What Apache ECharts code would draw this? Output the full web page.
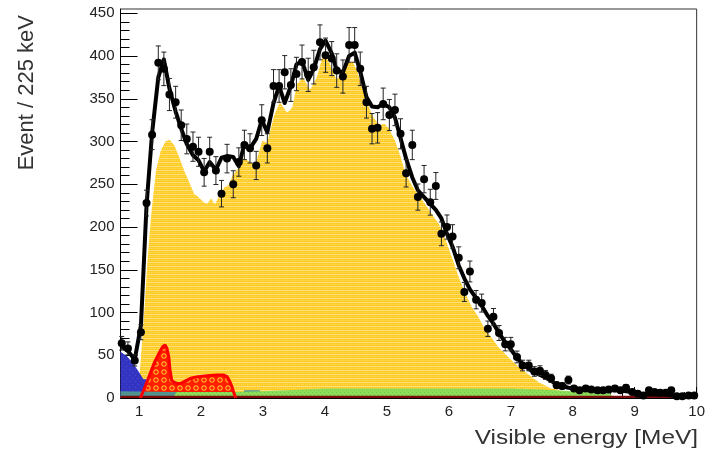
<!DOCTYPE html>
<html lang="en">
<head>
    <meta charset="UTF-8">
    <title>Visible energy spectrum</title>
    <script src="https://cdn.jsdelivr.net/npm/echarts@6/dist/echarts.min.js"></script>
    <style>
        html, body { margin: 0; padding: 0; background: #fff; }
        #chart { width: 708px; height: 449px; }
    </style>
</head>
<body>
<div id="chart"></div>
<script>
    // data points (Event / 225 keV)
    var pointE = [0.72,0.82,0.93,1.03,1.12,1.21,1.31,1.40,1.49,1.59,1.68,1.77,1.87,1.96,
        2.05,2.14,2.24,2.33,2.42,2.52,2.61,2.70,2.79,2.89,2.98,
        3.07,3.17,3.26,3.35,3.45,3.54,3.63,3.73,3.82,3.92,
        4.01,4.11,4.19,4.29,4.39,4.48,4.57,4.67,4.76,4.85,4.94,
        5.04,5.13,5.22,5.31,5.41,5.50,5.60,5.70,5.79,5.88,5.97,
        6.06,6.16,6.25,6.34,6.44,6.53,6.63,6.72,6.81,6.91,
        7.00,7.10,7.19,7.29,7.38,7.47,7.56,7.65,7.74,7.83,7.93,
        8.02,8.11,8.21,8.30,8.40,8.49,8.58,8.68,8.77,8.86,8.96,
        9.05,9.14,9.23,9.32,9.41,9.50,9.59,9.68,9.77,9.87,9.96];
    var pointV = [64,58,44,77,228,308,392,385,355,346,319,303,294,288,
        264,288,266,239,280,250,276,296,292,272,325,
        292,365,365,381,366,379,393,378,387,416,
        401,397,383,376,413,413,385,346,315,316,344,
        331,337,309,263,296,235,256,229,248,192,200,
        189,164,124,148,115,111,81,95,76,63,
        63,48,38,38,31,32,27,23,15,14,21,
        11,9,11,10,9,9,10,11,9,12,7,
        5,3,9,7,6,6,9,2,2,3,3];
    var pointErr = [8,7.6,6.6,8.8,15.1,17.5,19.8,19.6,18.8,18.6,17.9,17.4,17.1,17,
        16.2,17,16.3,15.5,16.7,15.8,16.6,17.2,17.1,16.5,18,
        17.1,19.1,19.1,19.5,19.1,19.5,19.8,19.4,19.7,20.4,
        20,19.9,19.6,19.4,20.3,20.3,19.6,18.6,17.7,17.8,18.5,
        18.2,18.4,17.6,16.2,17.2,15.3,16,15.1,15.7,13.9,14.1,
        13.7,12.8,11.1,12.2,10.7,10.5,9,9.7,8.7,7.9,
        7.9,6.9,6.2,6.2,5.6,5.7,5.2,4.8,3.9,3.7,4.6,
        3.3,3,3.3,3.2,3,3,3.2,3.3,3,3.5,2.6,
        2.2,1.7,3,2.6,2.4,2.4,3,1.4,1.4,1.7,1.7];

    // total fit (black curve)
    var fitV = [60,55,45,85,225,310,375,396,362,335,315,297,284,278,
        265,276,267,281,283,282,271,297,292,303,325,
        311,345,365,345,365,390,394,372,385,408,
        418,403,383,381,400,404,382,352,341,340,344,
        340,328,304,280,258,243,235,227,220,210,192,
        177,155,140,127,117,108,96,87,76,65,
        57,47,40,34,30,27,24,20,16,14,12,
        11,10,10,10,9,9,9,9,9,8,7,
        5,4,4,4,4,4,3,3,3,3,3];

    // main (yellow) component, upper edge
    var yellowE = [0.97,1.02,1.07,1.12,1.18,1.26,1.34,1.42,1.50,1.58,1.66,1.74,1.82,1.90,1.96,
        2.03,2.09,2.17,2.22,2.30,2.37,2.44,2.50,2.58,2.68,2.77,2.87,2.98,
        3.06,3.17,3.27,3.39,3.46,3.54,3.65,3.76,3.86,3.97,
        4.08,4.19,4.28,4.37,4.45,4.53,4.61,4.70,4.78,4.88,4.96,
        5.04,5.15,5.23,5.31,5.42,5.53,5.66,5.77,5.85,5.96,
        6.06,6.17,6.28,6.38,6.49,6.60,6.71,6.81,6.92,
        7.03,7.14,7.24,7.35,7.46,7.57,7.65,7.72,7.80,7.85];
    var yellowV = [0,50,99,157,212,266,290,301,303,296,282,266,253,239,236,
        231,228,235,228,239,247,250,261,268,282,278,274,302,
        300,331,348,335,340,368,376,362,376,405,
        393,374,382,393,395,383,364,345,330,320,322,
        316,300,283,263,248,237,224,212,204,185,
        165,142,122,107,95,80,70,60,52,
        44,37,31,25,19,15,12,11,10,0];

    // blue component (low energy)
    var blueE = [0.70,0.80,0.90,1.00,1.07,1.15,1.25,1.40,1.50,1.60,1.70,1.80,1.90,2.00,2.10,2.20,2.35,2.50];
    var blueV = [54,49,41,30,22,22,24,24,22,19,17,15,13,10,8,6,3,0];

    // red component (two lobes)
    var redE = [1.02,1.08,1.18,1.25,1.32,1.38,1.42,1.45,1.48,1.50,1.53,1.60,1.67,1.75,1.83,1.95,2.10,2.25,2.36,2.42,2.46,2.50,2.53,2.56];
    var redV = [0,10,29,42,52,60,62,58,48,32,20,17,17,20,23,25,26,27,27,25,20,13,6,0];

    // green / teal flat backgrounds
    var tealE = [0.70,1.00,1.50,1.80,1.85,2.65,2.70,2.95,3.00];
    var tealV = [8,7.5,7,7,0,0,9,9,0];
    var greenE = [1.55,1.60,2.00,2.50,3.00,3.50,4.00,5.00,6.00,7.00,7.50,8.00,8.30,8.60,8.65];
    var greenV = [0,7,7,7,8,9.5,11,11,11,11,10,8,7,6,0];

    // dark red floor
    var floorE = [0.70,9.60,9.65];
    var floorV = [2.5,2.5,0];

    var xMajor = [1,2,3,4,5,6,7,8,9,10];
    var yMajor = [0,50,100,150,200,250,300,350,400,450];

    function pairs(xs, ys) {
        var out = [];
        for (var i = 0; i < xs.length; i++) out.push([xs[i], ys[i]]);
        return out;
    }

    // fill patterns, like ROOT hatches
    function pattern(w, h, draw) {
        var c = document.createElement('canvas');
        c.width = w; c.height = h;
        draw(c.getContext('2d'));
        return { image: c, repeat: 'repeat' };
    }
    var yellowFill = pattern(4, 4, function (g) {
        g.fillStyle = '#ffcc26'; g.fillRect(0, 0, 4, 4);
        g.fillStyle = '#ffe07a'; g.fillRect(0, 2, 4, 1);
        g.fillStyle = '#ffd95a'; g.fillRect(1, 0, 1, 1); g.fillRect(3, 0, 1, 1);
    });
    var redFill = pattern(8, 8, function (g) {
        g.fillStyle = '#ff1e00'; g.fillRect(0, 0, 8, 8);
        g.strokeStyle = '#ffb030'; g.lineWidth = 1.2;
        g.beginPath(); g.arc(4, 4, 2.2, 0, Math.PI * 2); g.stroke();
    });
    var blueFill = pattern(6, 6, function (g) {
        g.fillStyle = '#3434c2'; g.fillRect(0, 0, 6, 6);
        g.fillStyle = '#4a4ad0'; g.fillRect(0, 0, 1, 1); g.fillRect(3, 3, 1, 1);
    });
    var greenFill = pattern(4, 4, function (g) {
        g.fillStyle = '#8fdc5a'; g.fillRect(0, 0, 4, 4);
        g.fillStyle = '#70c84a'; g.fillRect(0, 0, 1, 1); g.fillRect(2, 2, 1, 1);
    });

    var xMinor = [], yMinor = [];
    for (var t = 8; t <= 100; t += 2) if (t % 10 !== 0) xMinor.push(t / 10);
    for (var u = 10; u < 455; u += 10) if (u % 50 !== 0) yMinor.push(u);

    var errData = [];
    for (var k = 0; k < pointE.length; k++) errData.push([pointE[k], pointV[k], pointErr[k]]);

    var chart = echarts.init(document.getElementById('chart'));
    var labelFont = { fontSize: 15, color: '#222', fontFamily: 'Liberation Sans' };

    chart.setOption({
        animation: false,
        backgroundColor: '#fff',
        grid: { left: 120.5, right: 9.5, top: 9, bottom: 51, show: true, borderColor: '#333', borderWidth: 1, backgroundColor: 'transparent' },
        xAxis: [{
            type: 'value', min: 0.7, max: 10, position: 'bottom',
            axisLine: { show: true, onZero: false, lineStyle: { color: '#000', width: 1 } },
            axisTick: { show: true, inside: true, length: 11, customValues: xMajor, lineStyle: { color: '#000' } },
            axisLabel: Object.assign({ customValues: xMajor, margin: 6 }, labelFont),
            splitLine: { show: false }
        }, {
            type: 'value', min: 0.7, max: 10, position: 'bottom',
            axisLine: { show: false },
            axisTick: { show: true, inside: true, length: 6, customValues: xMinor, lineStyle: { color: '#000' } },
            axisLabel: { show: false },
            splitLine: { show: false }
        }],
        yAxis: [{
            type: 'value', min: 0, max: 455, interval: 50, position: 'left',
            axisLine: { show: true, onZero: false, lineStyle: { color: '#000', width: 1 } },
            axisTick: { show: true, inside: true, length: 17, customValues: yMajor, lineStyle: { color: '#000' } },
            axisLabel: Object.assign({ customValues: yMajor, margin: 6 }, labelFont),
            splitLine: { show: false }
        }, {
            type: 'value', min: 0, max: 455, position: 'left',
            axisLine: { show: false },
            axisTick: { show: true, inside: true, length: 9, customValues: yMinor, lineStyle: { color: '#000' } },
            axisLabel: { show: false },
            splitLine: { show: false }
        }],
        graphic: [{
            type: 'text', x: 698, y: 438, scaleX: 1.22,
            style: { text: 'Visible energy [MeV]', fill: '#333', font: '20px "Liberation Sans"', align: 'right', verticalAlign: 'middle' }
        }, {
            type: 'text', x: 27, y: 15, rotation: Math.PI / 2,
            style: { text: 'Event / 225 keV', fill: '#333', font: '22px "Liberation Sans"', align: 'right', verticalAlign: 'middle' }
        }],
        series: [{
            name: 'main', type: 'line', data: pairs(yellowE, yellowV), symbol: 'none', z: 1,
            lineStyle: { color: '#fff', width: 1.5 },
            areaStyle: { color: yellowFill, opacity: 1 }
        }, {
            name: 'blue', type: 'line', data: pairs(blueE, blueV), symbol: 'none', z: 2,
            lineStyle: { width: 0 },
            areaStyle: { color: blueFill, opacity: 1 }
        }, {
            name: 'red', type: 'line', data: pairs(redE, redV), symbol: 'none', z: 3,
            lineStyle: { color: '#ff0000', width: 3 },
            areaStyle: { color: redFill, opacity: 1 }
        }, {
            name: 'teal', type: 'line', data: pairs(tealE, tealV), symbol: 'none', z: 3,
            lineStyle: { width: 0 },
            areaStyle: { color: '#4f9490', opacity: 1 }
        }, {
            name: 'green', type: 'line', data: pairs(greenE, greenV), symbol: 'none', z: 3,
            lineStyle: { width: 0 },
            areaStyle: { color: greenFill, opacity: 1 }
        }, {
            name: 'floor', type: 'line', data: pairs(floorE, floorV), symbol: 'none', z: 3,
            lineStyle: { width: 0 },
            areaStyle: { color: '#7a0a0a', opacity: 1 }
        }, {
            name: 'fit', type: 'line', data: pairs(pointE, fitV), symbol: 'none', z: 4,
            lineStyle: { color: '#000', width: 4, join: 'round' }
        }, {
            name: 'errors', type: 'custom', z: 5,
            encode: { x: 0, y: 1 },
            data: errData,
            renderItem: function (params, api) {
                var x = api.value(0), v = api.value(1), e = api.value(2);
                var top = api.coord([x, v + e]);
                var bot = api.coord([x, Math.max(v - e, 0)]);
                var st = { stroke: '#222', lineWidth: 1 };
                return {
                    type: 'group',
                    children: [
                        { type: 'line', shape: { x1: top[0], y1: top[1], x2: bot[0], y2: bot[1] }, style: st },
                        { type: 'line', shape: { x1: top[0] - 2.5, y1: top[1], x2: top[0] + 2.5, y2: top[1] }, style: st },
                        { type: 'line', shape: { x1: bot[0] - 2.5, y1: bot[1], x2: bot[0] + 2.5, y2: bot[1] }, style: st }
                    ]
                };
            }
        }, {
            name: 'data', type: 'scatter', data: pairs(pointE, pointV), z: 6,
            symbol: 'circle', symbolSize: 8,
            itemStyle: { color: '#000', opacity: 1 }
        }]
    });

    window.addEventListener('resize', function () {
        chart.resize();
    });
</script>
</body>
</html>
